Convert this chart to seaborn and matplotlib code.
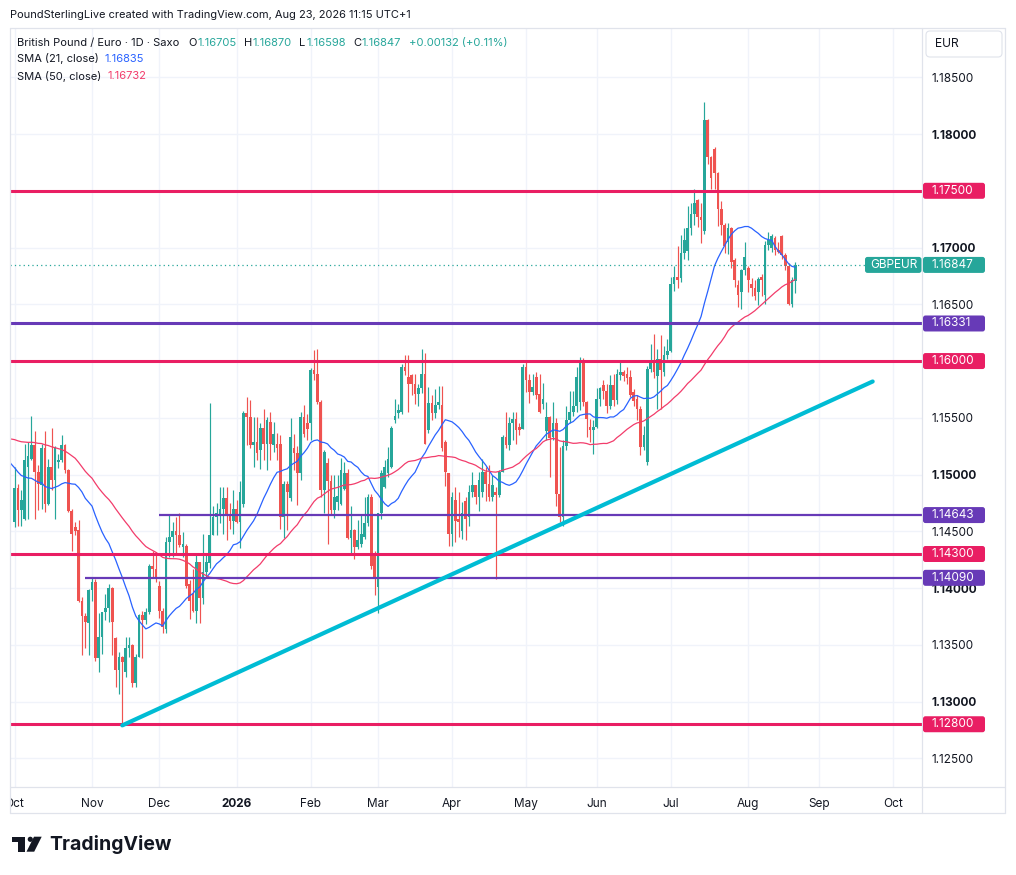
import numpy as np
import pandas as pd
import matplotlib
matplotlib.use("Agg")
import matplotlib.pyplot as plt
import matplotlib.transforms as mtransforms
from matplotlib.patches import Rectangle, FancyBboxPatch, Polygon, Circle
from matplotlib.lines import Line2D
import seaborn as sns

sns.set_theme(style="white")
plt.rcParams["font.family"] = ["Inter", "DejaVu Sans"]

# ---------------- data ----------------
FIRST_DAY = "2025-10-01"
LAST_AXIS_DAY = "2026-10-30"

# closes before the visible window (needed for the moving averages)
PRIOR_CLOSE = [
    1.1515, 1.1522, 1.1518, 1.1526, 1.1530, 1.1521, 1.1517, 1.1525, 1.1532, 1.1528,
    1.1540, 1.1552, 1.1561, 1.1558, 1.1567, 1.1572, 1.1563, 1.1555, 1.1560, 1.1568,
    1.1575, 1.1566, 1.1558, 1.1550, 1.1562, 1.1570, 1.1561, 1.1553, 1.1547, 1.1556,
    1.1548, 1.1542, 1.1535, 1.1540, 1.1531, 1.1538, 1.1529, 1.1533, 1.1541, 1.1530,
    1.1512, 1.1498, 1.1490, 1.1487, 1.1481, 1.1479, 1.1462, 1.1455, 1.1448, 1.1458,
]

OPEN = [
    1.1458, 1.1488, 1.1469, 1.1461, 1.1507, 1.1514, 1.1526, 1.1502, 1.1491, 1.1523,
    1.1474, 1.1507, 1.1495, 1.1511, 1.1513, 1.1526, 1.1504, 1.1468, 1.1454, 1.1451,
    1.1389, 1.1375, 1.1369, 1.1398, 1.1405, 1.1338, 1.1357, 1.1379, 1.1382, 1.1400,
    1.1356, 1.1328, 1.1339, 1.1326, 1.1347, 1.1350, 1.1316, 1.1339, 1.1376, 1.1372,
    1.1379, 1.1419, 1.1417, 1.1402, 1.1380, 1.1364, 1.1441, 1.1445, 1.1450, 1.1447,
    1.1436, 1.1437, 1.1404, 1.1395, 1.1380, 1.1423, 1.1391, 1.1414, 1.1422, 1.1447,
    1.1463, 1.1465, 1.1470, 1.1479, 1.1464, 1.1459, 1.1470, 1.1458, 1.1474, 1.1554,
    1.1551, 1.1526, 1.1529, 1.1522, 1.1541, 1.1527, 1.1546, 1.1526, 1.1527, 1.1527,
    1.1463, 1.1492, 1.1479, 1.1523, 1.1519, 1.1501, 1.1551, 1.1545, 1.1545, 1.1592,
    1.1589, 1.1564, 1.1486, 1.1510, 1.1494, 1.1469, 1.1476, 1.1474, 1.1487, 1.1501,
    1.1444, 1.1451, 1.1436, 1.1439, 1.1445, 1.1457, 1.1480, 1.1430, 1.1401, 1.1466,
    1.1489, 1.1501, 1.1507, 1.1548, 1.1554, 1.1555, 1.1595, 1.1586, 1.1588, 1.1580,
    1.1571, 1.1576, 1.1589, 1.1539, 1.1563, 1.1554, 1.1561, 1.1561, 1.1529, 1.1501,
    1.1448, 1.1478, 1.1461, 1.1450, 1.1477, 1.1463, 1.1485, 1.1491, 1.1480, 1.1485,
    1.1502, 1.1492, 1.1480, 1.1485, 1.1482, 1.1502, 1.1533, 1.1526, 1.1545, 1.1549,
    1.1542, 1.1540, 1.1595, 1.1583, 1.1573, 1.1586, 1.1571, 1.1562, 1.1538, 1.1551,
    1.1533, 1.1545, 1.1483, 1.1463, 1.1525, 1.1548, 1.1555, 1.1560, 1.1564, 1.1601,
    1.1564, 1.1542, 1.1539, 1.1542, 1.1567, 1.1579, 1.1574, 1.1560, 1.1579, 1.1566,
    1.1588, 1.1590, 1.1589, 1.1586, 1.1573, 1.1567, 1.1558, 1.1524, 1.1511, 1.1593,
    1.1598, 1.1587, 1.1602, 1.1590, 1.1605, 1.1609, 1.1668, 1.1674, 1.1673, 1.1695,
    1.1697, 1.1717, 1.1730, 1.1742, 1.1727, 1.1715, 1.1812, 1.1780, 1.1787, 1.1766,
    1.1734, 1.1720, 1.1705, 1.1717, 1.1689, 1.1667, 1.1661, 1.1680, 1.1682, 1.1668,
    1.1664, 1.1661, 1.1674, 1.1658, 1.1702, 1.1700, 1.1708, 1.1698, 1.1710, 1.1693,
    1.1684, 1.1650, 1.16705,
]
HIGH = [
    1.1507, 1.1492, 1.1486, 1.1527, 1.1529, 1.1552, 1.1538, 1.1508, 1.1527, 1.1538,
    1.1514, 1.1541, 1.1525, 1.1518, 1.1535, 1.1527, 1.1505, 1.1470, 1.1458, 1.1460,
    1.1392, 1.1378, 1.1399, 1.1410, 1.1408, 1.1378, 1.1379, 1.1395, 1.1404, 1.1401,
    1.1357, 1.1344, 1.1340, 1.1357, 1.1357, 1.1351, 1.1342, 1.1377, 1.1380, 1.1382,
    1.1421, 1.1433, 1.1432, 1.1406, 1.1382, 1.1445, 1.1464, 1.1458, 1.1463, 1.1466,
    1.1449, 1.1439, 1.1407, 1.1417, 1.1430, 1.1423, 1.1448, 1.1431, 1.1563, 1.1472,
    1.1475, 1.1489, 1.1489, 1.1489, 1.1475, 1.1486, 1.1478, 1.1494, 1.1556, 1.1568,
    1.1566, 1.1551, 1.1551, 1.1545, 1.1558, 1.1551, 1.1555, 1.1546, 1.1537, 1.1535,
    1.1494, 1.1494, 1.1550, 1.1536, 1.1525, 1.1555, 1.1561, 1.1553, 1.1594, 1.1610,
    1.1611, 1.1566, 1.1522, 1.1515, 1.1500, 1.1500, 1.1500, 1.1515, 1.1511, 1.1505,
    1.1472, 1.1452, 1.1460, 1.1464, 1.1480, 1.1483, 1.1483, 1.1433, 1.1466, 1.1504,
    1.1513, 1.1524, 1.1543, 1.1567, 1.1562, 1.1597, 1.1605, 1.1605, 1.1589, 1.1589,
    1.1580, 1.1611, 1.1607, 1.1577, 1.1570, 1.1575, 1.1578, 1.1578, 1.1530, 1.1501,
    1.1485, 1.1489, 1.1485, 1.1476, 1.1480, 1.1491, 1.1502, 1.1491, 1.1502, 1.1514,
    1.1507, 1.1508, 1.1500, 1.1489, 1.1504, 1.1535, 1.1555, 1.1551, 1.1555, 1.1555,
    1.1545, 1.1597, 1.1599, 1.1589, 1.1589, 1.1590, 1.1589, 1.1581, 1.1564, 1.1552,
    1.1564, 1.1550, 1.1524, 1.1530, 1.1560, 1.1574, 1.1574, 1.1595, 1.1604, 1.1603,
    1.1565, 1.1549, 1.1548, 1.1576, 1.1577, 1.1583, 1.1580, 1.1588, 1.1589, 1.1593,
    1.1601, 1.1592, 1.1595, 1.1592, 1.1575, 1.1570, 1.1560, 1.1543, 1.1596, 1.1615,
    1.1624, 1.1611, 1.1623, 1.1613, 1.1619, 1.1674, 1.1684, 1.1701, 1.1711, 1.1717,
    1.1737, 1.1739, 1.1752, 1.1743, 1.1739, 1.1828, 1.1813, 1.1781, 1.1789, 1.1767,
    1.1741, 1.1722, 1.1722, 1.1718, 1.1691, 1.1671, 1.1681, 1.1705, 1.1684, 1.1673,
    1.1671, 1.1674, 1.1677, 1.1706, 1.1714, 1.1712, 1.1710, 1.1705, 1.1711, 1.1695,
    1.1686, 1.1674, 1.16870,
]
LOW = [
    1.1454, 1.1455, 1.1455, 1.1460, 1.1461, 1.1513, 1.1461, 1.1469, 1.1470, 1.1467,
    1.1473, 1.1486, 1.1461, 1.1506, 1.1511, 1.1501, 1.1467, 1.1433, 1.1447, 1.1388,
    1.1341, 1.1347, 1.1341, 1.1389, 1.1336, 1.1326, 1.1342, 1.1372, 1.1370, 1.1341,
    1.1313, 1.1307, 1.1279, 1.1322, 1.1339, 1.1313, 1.1313, 1.1339, 1.1338, 1.1368,
    1.1377, 1.1410, 1.1405, 1.1374, 1.1360, 1.1360, 1.1427, 1.1427, 1.1430, 1.1436,
    1.1427, 1.1400, 1.1373, 1.1379, 1.1369, 1.1369, 1.1386, 1.1410, 1.1418, 1.1447,
    1.1447, 1.1457, 1.1448, 1.1442, 1.1452, 1.1448, 1.1457, 1.1435, 1.1471, 1.1526,
    1.1523, 1.1507, 1.1513, 1.1505, 1.1513, 1.1504, 1.1513, 1.1520, 1.1513, 1.1452,
    1.1444, 1.1451, 1.1477, 1.1504, 1.1473, 1.1495, 1.1533, 1.1530, 1.1530, 1.1583,
    1.1562, 1.1480, 1.1466, 1.1439, 1.1465, 1.1462, 1.1469, 1.1473, 1.1486, 1.1443,
    1.1430, 1.1426, 1.1434, 1.1436, 1.1443, 1.1455, 1.1417, 1.1394, 1.1378, 1.1461,
    1.1488, 1.1498, 1.1506, 1.1545, 1.1550, 1.1553, 1.1588, 1.1555, 1.1570, 1.1562,
    1.1560, 1.1572, 1.1527, 1.1537, 1.1548, 1.1550, 1.1558, 1.1521, 1.1490, 1.1437,
    1.1437, 1.1441, 1.1445, 1.1443, 1.1442, 1.1455, 1.1480, 1.1474, 1.1468, 1.1480,
    1.1477, 1.1477, 1.1477, 1.1408, 1.1480, 1.1502, 1.1523, 1.1522, 1.1530, 1.1527,
    1.1535, 1.1540, 1.1573, 1.1563, 1.1570, 1.1567, 1.1554, 1.1558, 1.1530, 1.1498,
    1.1530, 1.1472, 1.1458, 1.1455, 1.1522, 1.1545, 1.1552, 1.1555, 1.1557, 1.1560,
    1.1533, 1.1529, 1.1518, 1.1541, 1.1560, 1.1567, 1.1554, 1.1558, 1.1560, 1.1562,
    1.1583, 1.1582, 1.1580, 1.1568, 1.1560, 1.1548, 1.1517, 1.1522, 1.1508, 1.1590,
    1.1585, 1.1558, 1.1558, 1.1587, 1.1602, 1.1608, 1.1662, 1.1664, 1.1670, 1.1690,
    1.1689, 1.1711, 1.1720, 1.1718, 1.1704, 1.1712, 1.1774, 1.1752, 1.1752, 1.1719,
    1.1711, 1.1695, 1.1694, 1.1682, 1.1665, 1.1648, 1.1646, 1.1676, 1.1661, 1.1657,
    1.1654, 1.1649, 1.1657, 1.1650, 1.1698, 1.1696, 1.1693, 1.1695, 1.1690, 1.1680,
    1.1649, 1.1648, 1.16598,
]
CLOSE = [
    1.1488, 1.1469, 1.1478, 1.1513, 1.1516, 1.1526, 1.1502, 1.1492, 1.1523, 1.1474,
    1.1507, 1.1495, 1.1523, 1.1513, 1.1526, 1.1504, 1.1468, 1.1448, 1.1450, 1.1389,
    1.1375, 1.1370, 1.1398, 1.1405, 1.1338, 1.1357, 1.1379, 1.1382, 1.1400, 1.1370,
    1.1328, 1.1339, 1.1335, 1.1347, 1.1350, 1.1316, 1.1339, 1.1376, 1.1372, 1.1379,
    1.1419, 1.1417, 1.1408, 1.1380, 1.1366, 1.1441, 1.1445, 1.1450, 1.1447, 1.1438,
    1.1439, 1.1402, 1.1389, 1.1380, 1.1423, 1.1391, 1.1414, 1.1423, 1.1447, 1.1463,
    1.1466, 1.1470, 1.1479, 1.1464, 1.1459, 1.1470, 1.1458, 1.1485, 1.1554, 1.1551,
    1.1526, 1.1529, 1.1519, 1.1541, 1.1527, 1.1548, 1.1527, 1.1536, 1.1523, 1.1463,
    1.1492, 1.1485, 1.1533, 1.1519, 1.1501, 1.1551, 1.1536, 1.1540, 1.1592, 1.1589,
    1.1564, 1.1486, 1.1520, 1.1494, 1.1469, 1.1480, 1.1481, 1.1504, 1.1501, 1.1444,
    1.1451, 1.1436, 1.1442, 1.1448, 1.1457, 1.1480, 1.1419, 1.1410, 1.1466, 1.1501,
    1.1507, 1.1514, 1.1541, 1.1552, 1.1557, 1.1595, 1.1591, 1.1580, 1.1580, 1.1571,
    1.1576, 1.1589, 1.1527, 1.1563, 1.1554, 1.1561, 1.1564, 1.1523, 1.1502, 1.1448,
    1.1480, 1.1459, 1.1458, 1.1466, 1.1461, 1.1485, 1.1491, 1.1480, 1.1495, 1.1502,
    1.1492, 1.1480, 1.1491, 1.1482, 1.1502, 1.1533, 1.1526, 1.1545, 1.1549, 1.1539,
    1.1539, 1.1595, 1.1583, 1.1573, 1.1577, 1.1570, 1.1555, 1.1567, 1.1551, 1.1532,
    1.1545, 1.1483, 1.1463, 1.1525, 1.1548, 1.1555, 1.1560, 1.1586, 1.1601, 1.1564,
    1.1549, 1.1539, 1.1542, 1.1567, 1.1576, 1.1574, 1.1560, 1.1579, 1.1566, 1.1589,
    1.1590, 1.1587, 1.1585, 1.1570, 1.1565, 1.1558, 1.1524, 1.1535, 1.1593, 1.1599,
    1.1590, 1.1602, 1.1592, 1.1605, 1.1609, 1.1668, 1.1674, 1.1671, 1.1695, 1.1707,
    1.1717, 1.1730, 1.1739, 1.1727, 1.1724, 1.1812, 1.1780, 1.1761, 1.1766, 1.1734,
    1.1720, 1.1701, 1.1717, 1.1687, 1.1671, 1.1658, 1.1680, 1.1692, 1.1671, 1.1664,
    1.1657, 1.1672, 1.1671, 1.1702, 1.1707, 1.1710, 1.1698, 1.1696, 1.1693, 1.1684,
    1.1650, 1.1671, 1.16847,
]

RED_LEVELS = [1.17500, 1.16000, 1.14300, 1.12800]
PURPLE_LEVELS = [1.16331, 1.14643, 1.14090]
PURPLE_FROM = [None, "2025-12-01", "2025-10-30"]
TREND_DATES = ["2025-11-14", "2026-09-23"]
TREND_PRICES = [1.1279, 1.1582]
LAST_PRICE = 1.16847
CHANGE_TEXT = "+0.00132 (+0.11%)"
SMA21_TEXT = "1.16835"
SMA50_TEXT = "1.16732"
PRICE_TICKS = [1.125, 1.130, 1.135, 1.140, 1.145, 1.150, 1.155,
               1.160, 1.165, 1.170, 1.175, 1.180, 1.185]

# ---------------- colours ----------------
UP = "#26A69A"
DOWN = "#EF5350"
RED_LINE = "#E91E63"
PURPLE = "#673AB7"
CYAN = "#00BCD4"
SMA21_C = "#2962FF"
SMA50_C = "#F23C6B"
TXT = "#131722"
GRID = "#F0F3FA"
BORDER = "#E0E3EB"

W, H = 1016, 875
fig = plt.figure(figsize=(W / 100, H / 100), dpi=100)
fig.patch.set_facecolor("white")
ax = fig.add_axes([10 / W, 1 - 787 / H, 912 / W, 759 / H])
ax.set_facecolor("white")

n = min(len(OPEN), len(HIGH), len(LOW), len(CLOSE))
axis_days = pd.bdate_range(FIRST_DAY, LAST_AXIS_DAY)
pos_of = {d: i for i, d in enumerate(axis_days)}
k = np.arange(n)
o = np.array(OPEN[:n]); h = np.array(HIGH[:n]); l = np.array(LOW[:n]); c = np.array(CLOSE[:n])
cols = np.where(c >= o, UP, DOWN)

# month ticks
month_pos, month_lab = [], []
for d, i in pos_of.items():
    if i == 0 or d.month != axis_days[i - 1].month:
        month_pos.append(i)
        month_lab.append("2026" if (d.month == 1) else d.strftime("%b"))

ax.set_xlim(-1.37, 269.66)
ax.set_ylim(1.122471, 1.189344)

# grid
for mp in month_pos:
    ax.axvline(mp, color=GRID, lw=1, zorder=0)
for t in PRICE_TICKS:
    ax.axhline(t, color=GRID, lw=1, zorder=0)

# candles
ax.vlines(k, l, h, colors=cols, lw=0.85, zorder=2)
body = np.maximum(np.abs(c - o), 0.00003)
ax.bar(k, body, bottom=np.minimum(o, c), width=0.8, color=cols, linewidth=0, zorder=3)

# moving averages
full = pd.Series(PRIOR_CLOSE + list(CLOSE[:n]))
idx = np.arange(-len(PRIOR_CLOSE), n)
sma = pd.DataFrame({"k": idx,
                    "sma21": full.rolling(21).mean().values,
                    "sma50": full.rolling(50).mean().values})
sma = sma[sma["k"] >= -3]
sns.lineplot(data=sma, x="k", y="sma21", ax=ax, color=SMA21_C, lw=0.9, zorder=4)
sns.lineplot(data=sma, x="k", y="sma50", ax=ax, color=SMA50_C, lw=0.9, zorder=4)
ax.set_xlabel("")
ax.set_ylabel("")

# horizontal levels
x0, x1 = ax.get_xlim()
for lv in RED_LEVELS:
    ax.axhline(lv, color=RED_LINE, lw=2.2, zorder=5)
for lv, frm in zip(PURPLE_LEVELS, PURPLE_FROM):
    if frm is None:
        ax.axhline(lv, color=PURPLE, lw=2.2, zorder=5)
    else:
        xs = pos_of[pd.Timestamp(frm)]
        ax.hlines(lv, xs, x1, color=PURPLE, lw=1.6, zorder=5)

# trend line
tx = [pos_of[pd.Timestamp(d)] for d in TREND_DATES]
ax.plot(tx, TREND_PRICES, color=CYAN, lw=3.0, solid_capstyle="round", zorder=6)

# last price dotted
ax.axhline(LAST_PRICE, xmin=0, xmax=(865 - 10) / 912, color=UP, lw=0.9,
           ls=(0, (1, 2.5)), zorder=5)

# axes ticks (labels hidden behind level boxes are left blank)
covered = set(round(v, 3) for v in RED_LEVELS)
ax.yaxis.tick_right()
ax.set_yticks(PRICE_TICKS)
ax.set_yticklabels(["" if round(t, 3) in covered else f"{t:.5f}" for t in PRICE_TICKS])
ax.tick_params(axis="y", length=0, pad=7.2, labelsize=8.5, labelcolor=TXT)
for lab, t in zip(ax.get_yticklabels(), PRICE_TICKS):
    if abs(round(t * 100) - t * 100) < 1e-6:
        lab.set_fontweight("bold")
ax.set_xticks(month_pos)
ax.set_xticklabels(month_lab)
ax.tick_params(axis="x", length=0, pad=8, labelsize=8.5, labelcolor=TXT)
for lab in ax.get_xticklabels():
    if lab.get_text() == "2026":
        lab.set_fontweight("bold")
for s in ax.spines.values():
    s.set_visible(False)

ID = mtransforms.IdentityTransform()
fig.canvas.draw()
renderer = fig.canvas.get_renderer()


def ypix(price):
    return ax.transData.transform((0, price))[1]


def axis_label(price, text, color):
    yc = ypix(price)
    fig.add_artist(FancyBboxPatch((923, yc - 8), 62, 16,
                                  boxstyle="round,pad=0,rounding_size=2.5",
                                  fc=color, ec="none", transform=ID, zorder=20))
    fig.text(932, yc, text, color="white", fontsize=8.5, va="center", ha="left",
             transform=ID, zorder=21)


for lv in RED_LEVELS:
    axis_label(lv, f"{lv:.5f}", RED_LINE)
for lv in PURPLE_LEVELS:
    axis_label(lv, f"{lv:.5f}", PURPLE)
axis_label(LAST_PRICE, f"{LAST_PRICE:.5f}", UP)
yc = ypix(LAST_PRICE)
fig.add_artist(FancyBboxPatch((865, yc - 8), 56.5, 16,
                              boxstyle="round,pad=0,rounding_size=2.5",
                              fc=UP, ec="none", transform=ID, zorder=20))
fig.text(870, yc, "GBPEUR", color="white", fontsize=8.5, va="center", ha="left",
         transform=ID, zorder=21)

# cover for clipped "Oct" at the left edge
fig.add_artist(Rectangle((0, H - 815), 9.5, 30, fc="white", ec="none",
                         transform=ID, zorder=15))

# frame lines
def fline(xa, ya, xb, yb):
    fig.add_artist(Line2D([xa, xb], [H - ya, H - yb], color=BORDER, lw=0.9,
                          transform=ID, zorder=16))

fline(10, 28, 1005, 28)
fline(10, 813, 1005, 813)
fline(10, 28, 10, 813)
fline(1005, 28, 1005, 813)
fline(922, 28, 922, 813)
fline(10, 787, 1005, 787)

# EUR box
fig.add_artist(FancyBboxPatch((926, H - 57), 76, 26,
                              boxstyle="round,pad=0,rounding_size=4",
                              fc="white", ec=BORDER, lw=0.8, transform=ID, zorder=17))
fig.text(935, H - 44, "EUR", color=TXT, fontsize=8.7, va="center", ha="left",
         transform=ID, zorder=18)


# header and legend: pieces chained left to right using their measured widths
def chain(x, y, pieces, size=8.0):
    for text, color, gap in pieces:
        x += gap
        t = fig.text(x, H - y, text, color=color, fontsize=size, va="center",
                     ha="left", transform=ID, zorder=18)
        x += t.get_window_extent(renderer).width
    return x


chain(10, 15, [("PoundSterlingLive created with TradingView.com, Aug 23, 2026 11:15 UTC+1",
                TXT, 0)], size=7.95)
chain(17.3, 43, [
    ("British Pound / Euro · 1D · Saxo", TXT, 0),
    ("O", TXT, 8.5), (f"{OPEN[n-1]:.5f}", UP, 0.6),
    ("H", TXT, 7.5), (f"{HIGH[n-1]:.5f}", UP, 0.6),
    ("L", TXT, 7.5), (f"{LOW[n-1]:.5f}", UP, 0.6),
    ("C", TXT, 7.5), (f"{CLOSE[n-1]:.5f}", UP, 0.6),
    (CHANGE_TEXT, UP, 7.5),
])
chain(17.3, 59, [("SMA (21, close)", TXT, 0), (SMA21_TEXT, SMA21_C, 5.5)])
chain(17.3, 76, [("SMA (50, close)", TXT, 0), (SMA50_TEXT, SMA50_C, 5.5)])

# TradingView logo
LOGO = "#131722"
fig.add_artist(Polygon([(11.7, H - 836.7), (25, H - 836.7), (25, H - 851.7),
                        (18.3, H - 851.7), (18.3, H - 841.7), (11.7, H - 841.7)],
                       closed=True, fc=LOGO, ec="none", transform=ID, zorder=18))
fig.add_artist(Circle((30.3, H - 839.3), 2.6, fc=LOGO, ec="none", transform=ID, zorder=18))
fig.add_artist(Polygon([(34.0, H - 836.7), (41.7, H - 836.7), (34.2, H - 851.7),
                        (26.5, H - 851.7)], closed=True, fc=LOGO, ec="none",
                       transform=ID, zorder=18))
fig.text(49, H - 845, "TradingView", color=LOGO, fontsize=14.0, fontweight="bold",
         va="center", ha="left", transform=ID, zorder=18)

fig.savefig("out.png", dpi=100, facecolor="white")
